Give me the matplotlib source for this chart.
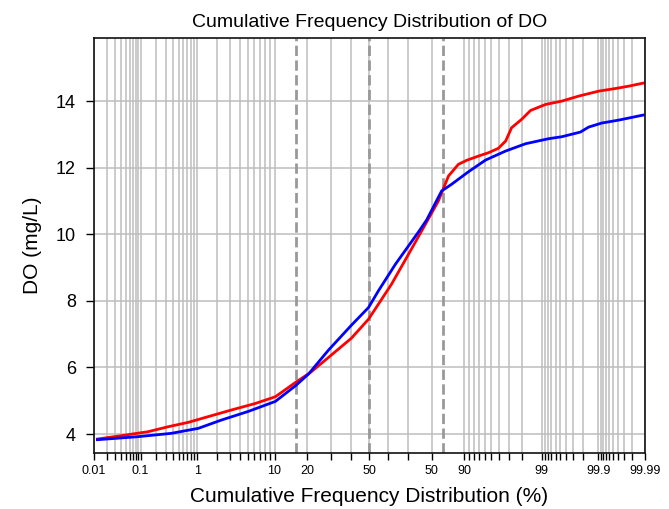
from statistics import NormalDist

import numpy as np
import matplotlib
matplotlib.use("Agg")
import matplotlib.pyplot as plt

plt.rcParams["font.family"] = ["Liberation Sans", "DejaVu Sans"]

# cumulative frequency (%) and DO (mg/L) for the two curves
red_pct = [0.012, 0.04, 0.14, 0.33, 0.72, 1.64, 3.1, 6.2, 10.2, 15.9, 21.3,
           29.0, 40.4, 49.5, 54.8, 61.7, 70.1, 77.5, 82.4, 85.7, 88.5, 90.5,
           92.96, 94.6, 95.9, 96.7, 97.25, 98.0, 98.52, 99.13, 99.53, 99.763,
           99.902, 99.956, 99.977, 99.989]
red_do = [3.85, 3.95, 4.07, 4.22, 4.35, 4.55, 4.72, 4.92, 5.12, 5.55, 5.85,
          6.3, 6.88, 7.45, 7.9, 8.5, 9.4, 10.3, 11.0, 11.75, 12.1, 12.22,
          12.35, 12.45, 12.58, 12.8, 13.2, 13.45, 13.72, 13.9, 14.0, 14.15,
          14.3, 14.38, 14.45, 14.54]

blue_pct = [0.012, 0.088, 0.37, 1.04, 2.28, 5.1, 10.2, 15.9, 20.5, 29.0, 40.4,
            49.5, 54.8, 63.7, 74.6, 78.0, 83.5, 86.6, 90.96, 94.16, 96.7,
            98.25, 99.22, 99.53, 99.78, 99.846, 99.914, 99.962, 99.989]
blue_do = [3.83, 3.92, 4.02, 4.17, 4.42, 4.68, 4.98, 5.45, 5.8, 6.52, 7.27,
           7.8, 8.3, 9.1, 10.07, 10.43, 11.3, 11.5, 11.88, 12.23, 12.5,
           12.72, 12.87, 12.93, 13.07, 13.22, 13.34, 13.43, 13.58]

ref_pct = [16, 50, 84]   # mean and +/- one sigma

label_pos = [0.01, 0.1, 1, 10, 20, 50, 80, 90, 99, 99.9, 99.99]
label_txt = ["0.01", "0.1", "1", "10", "20", "50", "50", "90", "99", "99.9", "99.99"]

_nd = NormalDist()
_ppf = np.vectorize(lambda p: _nd.inv_cdf(p), otypes=[float])
_cdf = np.vectorize(lambda z: _nd.cdf(z), otypes=[float])


def fwd(p):
    p = np.clip(np.asarray(p, dtype=float) / 100.0, 1e-12, 1 - 1e-12)
    return _ppf(p)


def inv(z):
    return _cdf(np.asarray(z, dtype=float)) * 100.0


def grid_positions():
    low = [k / 100 for k in range(1, 10)] + [k / 10 for k in range(1, 10)] \
        + list(range(1, 10))
    mid = list(range(10, 100, 10))
    high = [round(100 - v, 4) for v in low[::-1]]
    return low + mid + high


fig = plt.figure(figsize=(6.69, 5.09), dpi=100)
ax = fig.add_axes([0.1405, 0.110, 0.8235, 0.815])
ax.set_xscale("function", functions=(fwd, inv))

ticks = grid_positions()
ax.set_xticks(ticks)
ax.set_xticklabels([label_txt[label_pos.index(t)] if t in label_pos else ""
                    for t in ticks])
ax.set_xlim(0.01, 99.99)
ax.set_ylim(3.43, 15.89)
ax.set_yticks([4, 6, 8, 10, 12, 14])

ax.grid(True, color="#bdbdbd", lw=1.1)
ax.set_axisbelow(True)
for p in ref_pct:
    ax.axvline(p, color="#999999", ls="--", lw=2)

ax.plot(red_pct, red_do, color="red", lw=2)
ax.plot(blue_pct, blue_do, color="blue", lw=2)

ax.tick_params(axis="x", labelsize=9, length=5, width=1)
ax.tick_params(axis="y", labelsize=13, length=6, width=1, pad=7)
for s in ax.spines.values():
    s.set_color("#111111")
    s.set_linewidth(1.2)

ax.set_title("Cumulative Frequency Distribution of DO", fontsize=14, pad=8)
ax.set_xlabel("Cumulative Frequency Distribution (%)", fontsize=15, labelpad=7)
ax.set_ylabel("DO (mg/L)", fontsize=15, labelpad=10)

fig.savefig("out.png", dpi=100)
